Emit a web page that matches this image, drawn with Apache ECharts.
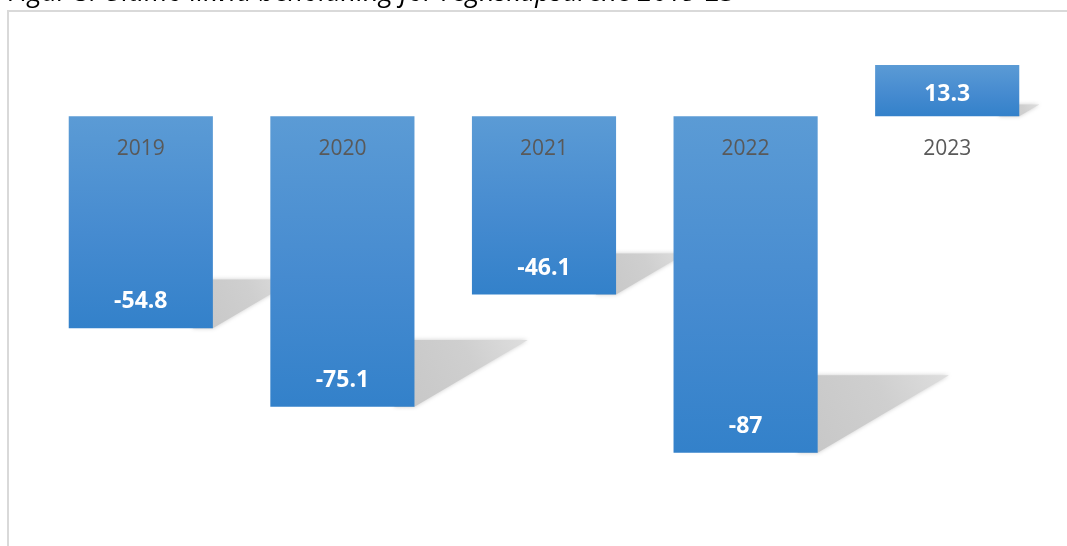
<!DOCTYPE html>
<html>
<head>
<meta charset="utf-8">
<script src="https://cdn.jsdelivr.net/npm/echarts@6/dist/echarts.min.js"></script>
<style>
html,body{margin:0;padding:0;background:#fff;}
#chart{width:1067px;height:546px;}
</style>
</head>
<body>
<div id="chart"></div>
<script>
const titleText = 'Figur 5: Ultimo likvid beholdning for regnskapsårene 2019-23';
const years = ['2019', '2020', '2021', '2022', '2023'];
const values = [-54.8, -75.1, -46.1, -87, 13.3];

const chart = echarts.init(document.getElementById('chart'), null, {renderer: 'canvas'});
const BAR_RATIO = 0.715;
const Y_MIN = -100, Y_MAX = 20;
const GRID_TOP = 39, GRID_H = 464;
// move the category axis up to the zero line
const AXIS_OFFSET = -GRID_H * (0 - Y_MIN) / (Y_MAX - Y_MIN);

const barGradient = new echarts.graphic.LinearGradient(0, 0, 0, 1, [
  {offset: 0, color: '#5b9bd5'},
  {offset: 0.55, color: '#468bd0'},
  {offset: 1, color: '#3381ca'}
]);

const option = {
  animation: false,
  backgroundColor: '#ffffff',
  grid: {left: 40, right: 19, top: GRID_TOP, height: GRID_H, containLabel: false},
  xAxis: {
    type: 'category',
    data: years,
    position: 'bottom',
    offset: AXIS_OFFSET,
    z: 10,
    axisLine: {show: false, onZero: false},
    axisTick: {show: false},
    splitLine: {show: false},
    axisLabel: {
      margin: 22,
      fontFamily: 'Open Sans',
      fontSize: 21,
      color: '#595959'
    }
  },
  yAxis: {
    type: 'value',
    min: Y_MIN,
    max: Y_MAX,
    interval: 20,
    axisLine: {show: false},
    axisTick: {show: false},
    axisLabel: {show: false},
    splitLine: {show: false}
  },
  graphic: [
    {
      type: 'rect',
      shape: {x: 8, y: 11, width: 1100, height: 600},
      style: {fill: 'none', stroke: '#d9d9d9', lineWidth: 2},
      z: -10,
      silent: true
    },
    {
      type: 'text',
      left: 8,
      top: -20,
      style: {
        text: titleText,
        fontFamily: 'Open Sans',
        fontStyle: 'italic',
        fontSize: 27,
        fill: '#000000'
      }
    }
  ],
  series: [
    {
      type: 'custom',
      z: 1,
      silent: true,
      data: years.map((y, i) => [i, values[i]]),
      renderItem: function (params, api) {
        const idx = api.value(0);
        const v = api.value(1);
        const end = api.coord([idx, v]);
        const zero = api.coord([idx, 0]);
        const band = api.size([1, 0])[0];
        const bw = band * BAR_RATIO;
        const right = end[0] + bw / 2;
        const len = Math.abs(end[1] - zero[1]);
        const yb = Math.max(end[1], zero[1]);
        const h = len * 0.23;
        const w = len * 0.39;
        return {
          type: 'polygon',
          shape: {points: [[right - 20, yb - h], [right + w, yb - h], [right, yb], [right - 20, yb]]},
          style: {
            fill: new echarts.graphic.LinearGradient(0, 1, 1, 0, [
              {offset: 0, color: '#c6c6c6'},
              {offset: 0.6, color: '#cfcfcf'},
              {offset: 1, color: '#dedede'}
            ]),
            shadowBlur: 4,
            shadowColor: 'rgba(190,190,190,0.8)'
          }
        };
      }
    },
    {
      type: 'bar',
      z: 2,
      barWidth: (BAR_RATIO * 100) + '%',
      data: values.map(v => ({
        value: v,
        label: {distance: v < 0 ? 15 : 10}
      })),
      itemStyle: {color: barGradient},
      label: {
        show: true,
        position: 'insideBottom',
        fontFamily: 'Open Sans',
        fontWeight: 'bold',
        fontSize: 23,
        color: '#ffffff',
        formatter: p => String(p.value)
      }
    }
  ]
};
chart.setOption(option);
</script>
</body>
</html>
